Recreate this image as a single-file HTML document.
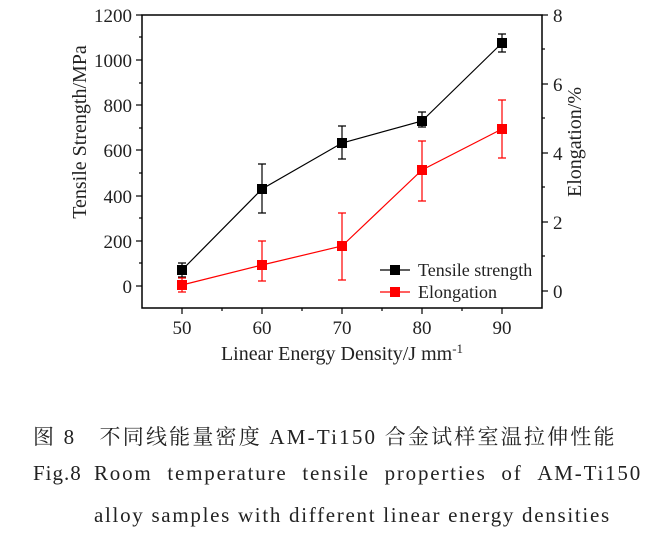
<!DOCTYPE html>
<html><head><meta charset="utf-8"><style>
body{margin:0;background:#fff;width:645px;height:543px;overflow:hidden}
.c{position:absolute;font-family:"Liberation Serif","Noto Serif CJK SC",serif;font-size:21px;color:#222;white-space:nowrap}
</style></head><body>
<svg width="645" height="400" style="position:absolute;left:0;top:0" font-family="Liberation Serif,serif" font-size="19">
<rect x="142" y="15" width="400" height="293" fill="none" stroke="#000" stroke-width="1.5"/>
<g stroke="#000" stroke-width="1.2">
<line x1="142" y1="15" x2="136" y2="15"/><line x1="142" y1="60" x2="136" y2="60"/><line x1="142" y1="105" x2="136" y2="105"/><line x1="142" y1="150" x2="136" y2="150"/><line x1="142" y1="196" x2="136" y2="196"/><line x1="142" y1="241" x2="136" y2="241"/><line x1="142" y1="286" x2="136" y2="286"/>
<line x1="142" y1="37" x2="139" y2="37"/><line x1="142" y1="83" x2="139" y2="83"/><line x1="142" y1="128" x2="139" y2="128"/><line x1="142" y1="173" x2="139" y2="173"/><line x1="142" y1="218" x2="139" y2="218"/><line x1="142" y1="263" x2="139" y2="263"/>
<line x1="182" y1="308" x2="182" y2="314"/><line x1="262" y1="308" x2="262" y2="314"/><line x1="342" y1="308" x2="342" y2="314"/><line x1="422" y1="308" x2="422" y2="314"/><line x1="502" y1="308" x2="502" y2="314"/>
<line x1="222" y1="308" x2="222" y2="311"/><line x1="302" y1="308" x2="302" y2="311"/><line x1="382" y1="308" x2="382" y2="311"/><line x1="462" y1="308" x2="462" y2="311"/>
<line x1="542" y1="15" x2="548" y2="15"/><line x1="542" y1="84" x2="548" y2="84"/><line x1="542" y1="153" x2="548" y2="153"/><line x1="542" y1="222" x2="548" y2="222"/><line x1="542" y1="291" x2="548" y2="291"/>
<line x1="542" y1="49" x2="545" y2="49"/><line x1="542" y1="118" x2="545" y2="118"/><line x1="542" y1="187" x2="545" y2="187"/><line x1="542" y1="256" x2="545" y2="256"/>
</g>
<g text-anchor="end" fill="#222">
<text x="132" y="22">1200</text><text x="132" y="67">1000</text><text x="132" y="112">800</text><text x="132" y="157">600</text><text x="132" y="203">400</text><text x="132" y="248">200</text><text x="132" y="293">0</text>
</g>
<g text-anchor="start" fill="#222">
<text x="553" y="22">8</text><text x="553" y="91">6</text><text x="553" y="160">4</text><text x="553" y="229">2</text><text x="553" y="298">0</text>
</g>
<g text-anchor="middle" fill="#222">
<text x="182" y="334">50</text><text x="262" y="334">60</text><text x="342" y="334">70</text><text x="422" y="334">80</text><text x="502" y="334">90</text>
<text x="342" y="360" font-size="20">Linear Energy Density/J mm<tspan dy="-7" font-size="13">-1</tspan></text>
<text transform="translate(86,132) rotate(-90)" font-size="20">Tensile Strength/MPa</text>
<text transform="translate(581,142) rotate(-90)" font-size="20">Elongation/%</text>
</g>
<g stroke="#000" stroke-width="1.2" fill="none">
<polyline points="182,270 262,189 342,143 422,121 502,43"/>
<path d="M182,263V277M262,164V213M342,126V159M422,112V127M502,34V52M178,263h8M178,277h8M258,164h8M258,213h8M338,126h8M338,159h8M418,112h8M418,127h8M498,34h8M498,52h8"/>
</g>
<g fill="#000"><rect x="177" y="265" width="10" height="10"/><rect x="257" y="184" width="10" height="10"/><rect x="337" y="138" width="10" height="10"/><rect x="417" y="116" width="10" height="10"/><rect x="497" y="38" width="10" height="10"/></g>
<g stroke="#f00" stroke-width="1.2" fill="none">
<polyline points="182,285 262,265 342,246 422,170 502,129"/>
<path d="M182,278V292M262,241V281M342,213V280M422,141V201M502,100V158M178,278h8M178,292h8M258,241h8M258,281h8M338,213h8M338,280h8M418,141h8M418,201h8M498,100h8M498,158h8"/>
</g>
<g fill="#f00"><rect x="177" y="280" width="10" height="10"/><rect x="257" y="260" width="10" height="10"/><rect x="337" y="241" width="10" height="10"/><rect x="417" y="165" width="10" height="10"/><rect x="497" y="124" width="10" height="10"/></g>
<line x1="380" y1="270" x2="410" y2="270" stroke="#000" stroke-width="1.2"/><rect x="390" y="265" width="10" height="10" fill="#000"/>
<line x1="380" y1="292" x2="410" y2="292" stroke="#f00" stroke-width="1.2"/><rect x="390" y="287" width="10" height="10" fill="#f00"/>
<text x="418" y="276" fill="#222" font-size="18">Tensile strength</text>
<text x="418" y="298" fill="#222" font-size="18">Elongation</text>
</svg>
<div class="c" style="left:33px;top:421px;letter-spacing:2.2px">图 8　不同线能量密度 AM-Ti150 合金试样室温拉伸性能</div>
<div class="c" style="left:33px;top:461px;letter-spacing:1px">Fig.8</div>
<div class="c" style="left:94px;top:461px;width:548px;display:flex;justify-content:space-between;letter-spacing:1.8px"><span>Room</span><span>temperature</span><span>tensile</span><span>properties</span><span>of</span><span>AM-Ti150</span></div>
<div class="c" style="left:94px;top:503px;letter-spacing:1.7px">alloy samples with different linear energy densities</div>
</body></html>
